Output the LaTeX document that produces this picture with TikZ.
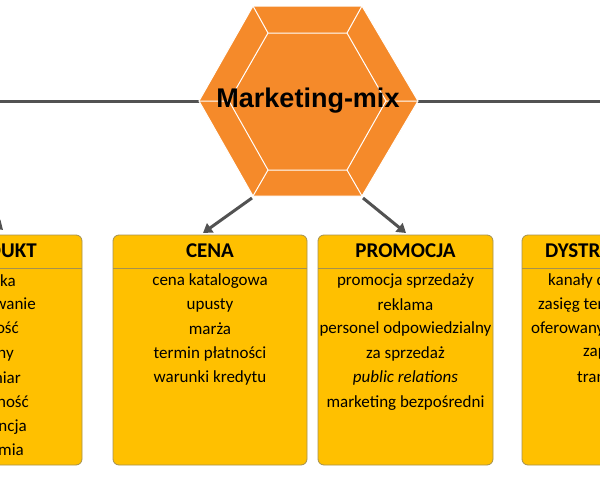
\documentclass[tikz,border=0pt]{standalone}
\usepackage{fontspec}
\setmainfont{Carlito}
\newfontfamily\arialf{Liberation Sans}
\begin{document}
\begin{tikzpicture}[x=1pt,y=-1pt,
  conn/.style={draw=black!68,line width=3},
  arr/.style={conn,-{Triangle[length=9,width=11]}},
  box/.style={draw=black!50!yellow!60!brown,fill=boxc,rounded corners=6,line width=0.8},
  ttl/.style={font=\bfseries\fontsize{21}{23}\selectfont},
  it/.style={font=\fontsize{17}{19}\selectfont}]
\usetikzlibrary{arrows.meta}
\definecolor{boxc}{HTML}{FFC000}
\definecolor{hexc}{HTML}{F58A2A}
\useasboundingbox (0,0) rectangle (600,480);
\clip (0,0) rectangle (600,480);
% lines
\coordinate (L) at (-5,101); \coordinate (R) at (605,101);
\draw[conn] (L) -- (200,101);
\draw[conn] (417,101) -- (R);
% hexagon
\path[fill=hexc,draw=white,line width=1] (253,6) -- (362,6) -- (418,101) -- (362,196) -- (253,196) -- (199,101) -- cycle;
\draw[white,line width=1] (268,33) -- (347,33) -- (386,101) -- (347,170) -- (268,170) -- (229,101) -- cycle;
\draw[white,line width=1] (253,6)--(268,33) (362,6)--(347,33) (418,101)--(386,101) (362,196)--(347,170) (253,196)--(268,170) (199,101)--(229,101);
\node[font=\arialf\bfseries\fontsize{27}{29}\selectfont] (hex) at (308,101) {Marketing-mix};
% arrows
\coordinate (a1) at (252,198); \coordinate (a2) at (363,198);
\coordinate (a0s) at (-40,190);
\draw[arr] (a1) -- (203,233);
\draw[arr] (a2) -- (406,233);
\draw[arr] (a0s) -- (3,230);
% boxes
\draw[box] (-120,235) rectangle (82,465);
\draw[box] (113,235) rectangle (307,465);
\draw[box] (318,235) rectangle (493,465);
\draw[box] (522,235) rectangle (720,465);
\draw[black!50!yellow!60!brown,line width=0.8] (-120,268)--(82,268) (113,268)--(307,268) (318,268)--(493,268) (522,268)--(720,268);
% titles
\node[ttl,anchor=east,inner xsep=0] (tp) at (37,251) {PRODUKT};
\node[ttl] (tc) at (210,251) {CENA};
\node[ttl] (tpr) at (405.5,251) {PROMOCJA};
\node[ttl,anchor=west,inner xsep=0] (td) at (545,251) {DYSTRYBUCJA};
% produkt
\foreach \t/\y/\e in {marka/281/16, opakowanie/305/36, jakość/329/19, {serwis posprzedażny}/354/14, rozmiar/378/21, użyteczność/403/29, gwarancja/427/27, premia/451/24}
  \node[it,anchor=east,inner xsep=0] at (\e,\y) {\t};
% cena
\foreach \t/\y in {cena katalogowa/281, upusty/305, marża/329, termin płatności/354, warunki kredytu/378}
  \node[it] at (210,\y) {\t};
% promocja
\foreach \t/\y in {promocja sprzedaży/281, reklama/305, personel odpowiedzialny/329, za sprzedaż/354, \textit{public relations}/378, marketing bezpośredni/403}
  \node[it] at (405.5,\y) {\t};
% dystrybucja
\foreach \t/\y/\s in {kanały dystrybucji/281/548, zasięg terytorialny/305/538, oferowany asortyment/329/531, zapasy/354/583, transport/378/577}
  \node[it,anchor=west,inner xsep=0] at (\s,\y) {\t};
\end{tikzpicture}
\end{document}
